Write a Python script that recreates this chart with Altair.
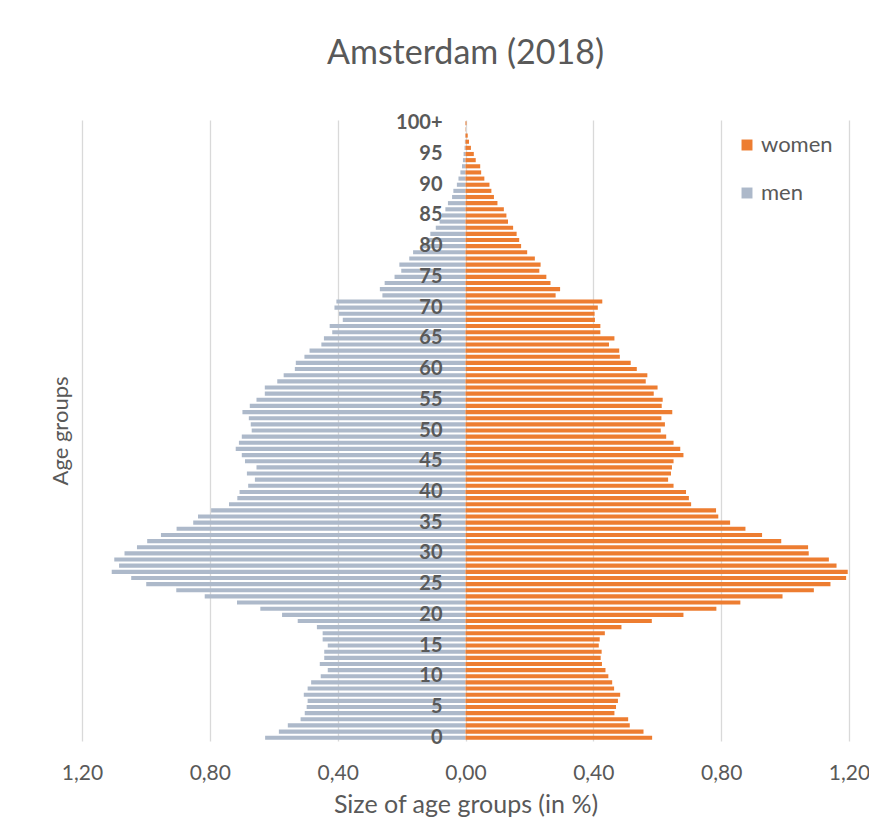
import altair as alt
import pandas as pd

ages = list(range(0, 101))

men = [
    0.627, 0.584, 0.556, 0.516, 0.503, 0.497, 0.494, 0.506, 0.494, 0.483,  # 0-9
    0.453, 0.431, 0.456, 0.442, 0.442, 0.431, 0.447, 0.447, 0.465, 0.525,  # 10-19
    0.574, 0.642, 0.715, 0.816, 0.905, 0.999, 1.046, 1.107, 1.084, 1.099,  # 20-29
    1.067, 1.028, 0.996, 0.953, 0.904, 0.852, 0.837, 0.796, 0.740, 0.714,  # 30-39
    0.707, 0.680, 0.659, 0.684, 0.654, 0.690, 0.700, 0.719, 0.709, 0.700,  # 40-49
    0.669, 0.672, 0.678, 0.698, 0.675, 0.654, 0.628, 0.628, 0.589, 0.569,  # 50-59
    0.534, 0.531, 0.504, 0.488, 0.451, 0.443, 0.417, 0.425, 0.384, 0.396,  # 60-69
    0.410, 0.404, 0.260, 0.268, 0.253, 0.222, 0.201, 0.207, 0.176, 0.164,  # 70-79
    0.133, 0.123, 0.110, 0.093, 0.081, 0.074, 0.063, 0.055, 0.042, 0.038,  # 80-89
    0.027, 0.022, 0.016, 0.011, 0.008, 0.006, 0.003, 0.002, 0.001, 0.0005,  # 90-99
    0.0005,  # 100+
]

women = [
    0.584, 0.557, 0.514, 0.509, 0.466, 0.471, 0.477, 0.484, 0.465, 0.459,  # 0-9
    0.447, 0.438, 0.427, 0.423, 0.426, 0.417, 0.420, 0.436, 0.488, 0.583,  # 10-19
    0.682, 0.785, 0.860, 0.992, 1.090, 1.142, 1.191, 1.196, 1.161, 1.137,  # 20-29
    1.074, 1.072, 0.988, 0.928, 0.876, 0.828, 0.791, 0.784, 0.706, 0.699,  # 30-39
    0.690, 0.651, 0.634, 0.643, 0.646, 0.651, 0.682, 0.672, 0.651, 0.628,  # 40-49
    0.611, 0.624, 0.613, 0.647, 0.614, 0.617, 0.589, 0.601, 0.564, 0.569,  # 50-59
    0.536, 0.517, 0.483, 0.481, 0.449, 0.466, 0.422, 0.422, 0.405, 0.404,  # 60-69
    0.414, 0.428, 0.282, 0.296, 0.266, 0.253, 0.231, 0.235, 0.217, 0.193,  # 70-79
    0.174, 0.168, 0.160, 0.149, 0.133, 0.128, 0.120, 0.100, 0.089, 0.081,  # 80-89
    0.075, 0.059, 0.049, 0.046, 0.032, 0.026, 0.017, 0.011, 0.007, 0.001,  # 90-99
    0.003,  # 100+
]

x_ticks = [-1.2, -0.8, -0.4, 0.0, 0.4, 0.8, 1.2]
series = ["women", "men"]
colors = ["#ED7D31", "#ADB9CA"]

rows = []
for a, m, w in zip(ages, men, women):
    rows.append({"age": a, "sex": "men", "value": -m})
    rows.append({"age": a, "sex": "women", "value": w})
df = pd.DataFrame(rows)

labels = pd.DataFrame({
    "age": [a for a in ages if a % 5 == 0],
    "label": [("100+" if a == 100 else str(a)) for a in ages if a % 5 == 0],
})

FONT = "Lato"
GREY = "#595959"

y_enc = alt.Y("age:O", sort="descending",
              scale=alt.Scale(paddingInner=0.33, paddingOuter=0.2),
              axis=alt.Axis(title="Age groups", labels=False, ticks=False, domain=False,
                            grid=False, titleFontSize=22, titleFont=FONT,
                            titleColor=GREY, titleFontWeight="normal", titlePadding=10))

bars = alt.Chart(df).mark_bar().encode(
    x=alt.X("value:Q",
            scale=alt.Scale(domain=[-1.2, 1.2], nice=False, zero=False),
            axis=alt.Axis(values=x_ticks, grid=True, gridColor="#d9d9d9", gridWidth=1.3,
                          domain=False, ticks=False, labelFlush=False,
                          labelExpr="replace(format(abs(datum.value), '.2f'), '.', ',')",
                          labelFontSize=21, labelFont=FONT, labelColor=GREY, labelPadding=21,
                          title="Size of age groups (in %)", titleFontSize=25,
                          titleFont=FONT, titleColor=GREY, titleFontWeight="normal",
                          titlePadding=9)),
    y=y_enc,
    color=alt.Color("sex:N",
                    scale=alt.Scale(domain=series, range=colors),
                    legend=alt.Legend(title=None, orient="none", legendX=654, legendY=14,
                                      symbolType="square", symbolSize=120,
                                      labelFontSize=22, labelFont=FONT, labelColor=GREY,
                                      rowPadding=26, labelOffset=3)),
)

text = alt.Chart(labels).mark_text(
    align="right", baseline="middle", dx=-23, font=FONT, fontSize=20,
    fontWeight="bold", color=GREY
).encode(
    x=alt.datum(0),
    y=alt.Y("age:O", sort="descending"),
    text="label:N",
)

chart = alt.layer(bars, text).properties(
    width=767,
    height=621,
    title=alt.TitleParams("Amsterdam (2018)", fontSize=34, font=FONT, color=GREY,
                          fontWeight="normal", anchor="middle", offset=42),
    autosize=alt.AutoSizeParams(type="none"),
    padding={"left": 74, "top": 112, "right": 20, "bottom": 84},
).configure_view(stroke=None)

chart.save("out.html", embed_options={"renderer": "svg", "actions": False})
